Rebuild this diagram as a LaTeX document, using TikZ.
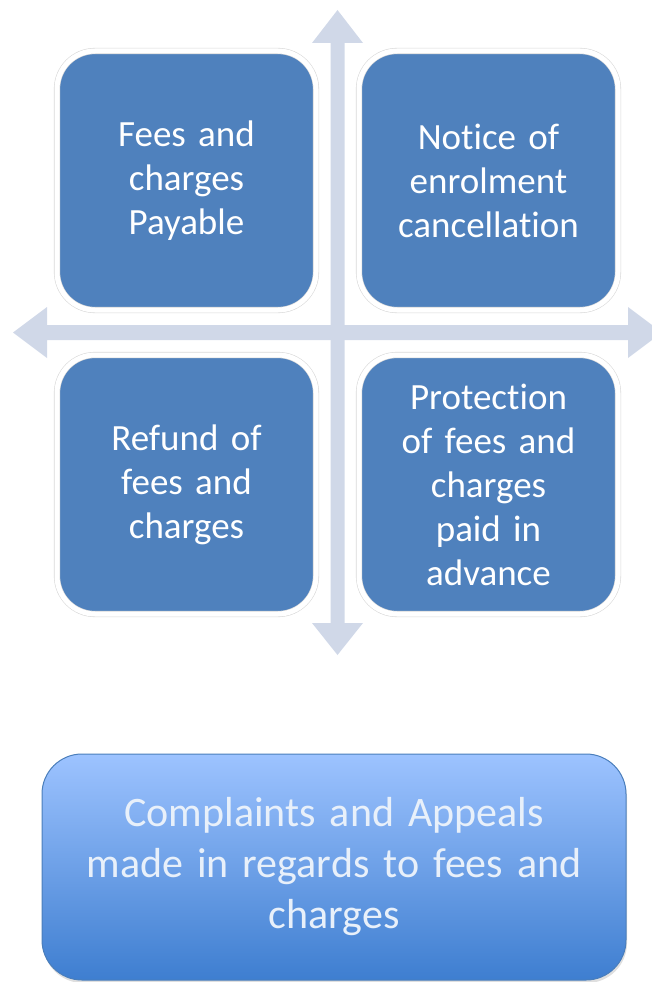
\documentclass[tikz,border=0pt]{standalone}
\usepackage{fontspec}
\setmainfont{Carlito}[Ligatures=NoCommon]
\usetikzlibrary{shadows}
\definecolor{quadblue}{RGB}{79,129,189}
\definecolor{crossgray}{RGB}{208,216,232}
\definecolor{edgeblue}{RGB}{74,126,187}
\definecolor{lighttext}{RGB}{232,240,250}
\tikzset{
  quadbox/.style={rectangle, rounded corners=38, fill=quadblue, draw=gray!30,
    line width=0.6, double=white, double distance=5,
    minimum width=259, minimum height=259, text width=230, align=center,
    text=white, font=\fontsize{37}{44}\selectfont},
  basebox/.style={rectangle, rounded corners=40, draw=edgeblue, line width=1,
    top color={rgb,255:red,157;green,195;blue,255}, bottom color={rgb,255:red,62;green,126;blue,208},
    drop shadow={opacity=0.25, shadow xshift=1pt, shadow yshift=-3pt},
    minimum width=584, minimum height=226, text width=540, align=center,
    text=lighttext, font=\fontsize{42}{51}\selectfont}
}
\begin{document}
\begin{tikzpicture}[x=1pt, y=-1pt]
\useasboundingbox (0,0) rectangle (651,982);

% cross of arrows
\fill[crossgray] (330.5,43) -- (312,43) -- (337.5,10) -- (363,43) -- (344.5,43)
  -- (344.5,623) -- (363,623) -- (337.5,655) -- (312,623) -- (330.5,623) -- cycle;
\fill[crossgray] (47,325) -- (47,307) -- (13,332.5) -- (47,358) -- (47,340)
  -- (628,340) -- (628,358) -- (662,332.5) -- (628,307) -- (628,325) -- cycle;

% four quadrants
\node[quadbox] (fees) at (186.5,180.5) {Fees and\\charges\\Payable};
\node[quadbox] (notice) at (488.5,180.5) {Notice of\\enrolment\\cancellation};
\node[quadbox] (refund) at (186.5,484.5) {Refund of\\fees and\\charges};
\node[quadbox] (protect) at (488.5,484.5) {Protection\\of fees and\\charges\\paid in\\advance};

% bottom box
\node[basebox] (complaints) at (334,867) {Complaints and Appeals\\made in regards to fees and\\charges};
\end{tikzpicture}
\end{document}
